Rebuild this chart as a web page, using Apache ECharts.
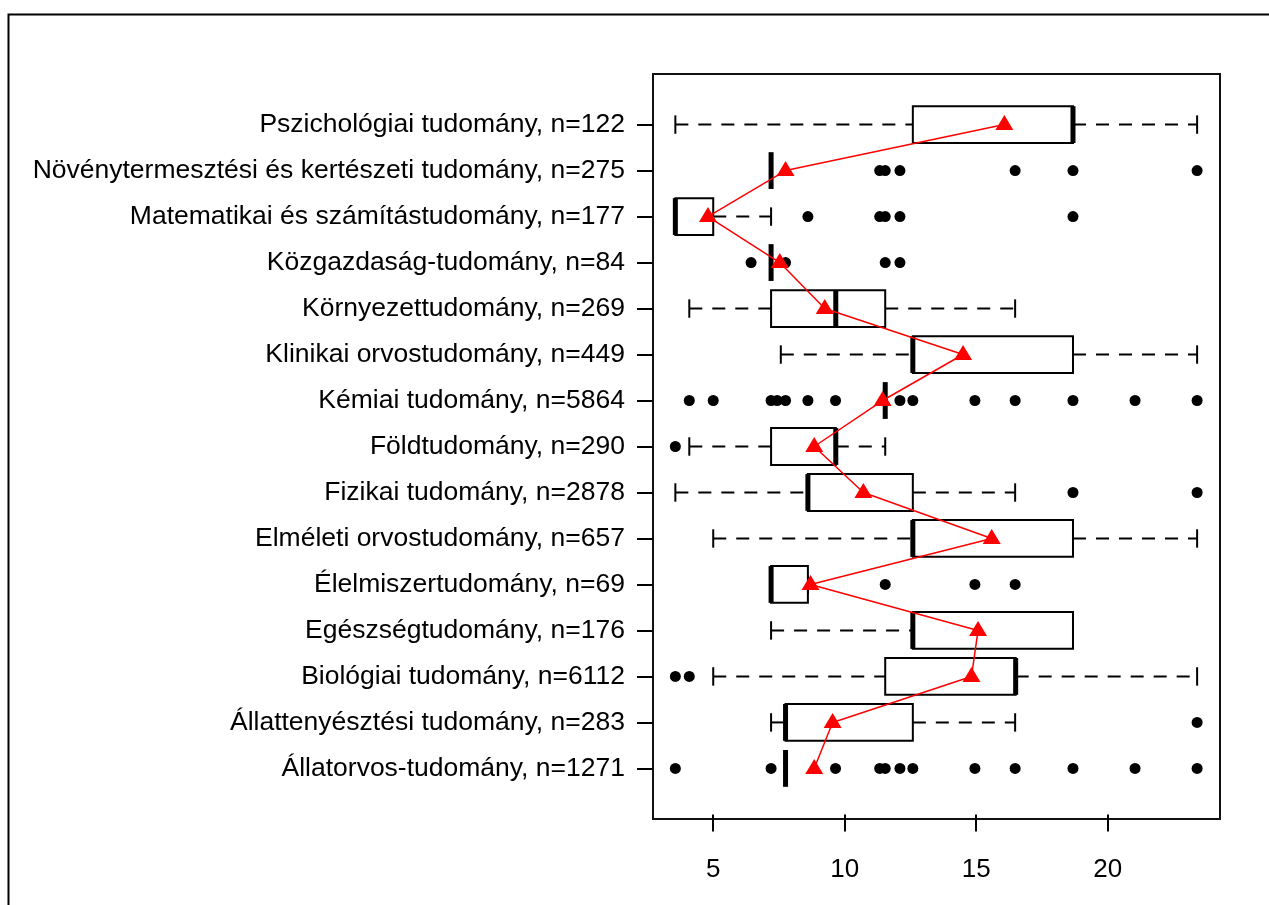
<!DOCTYPE html>
<html>
<head>
<meta charset="utf-8">
<script src="https://cdn.jsdelivr.net/npm/echarts@6/dist/echarts.min.js"></script>
<style>
html,body{margin:0;padding:0;background:#fff;}
#chart{width:1269px;height:905px;}
</style>
</head>
<body>
<div id="chart"></div>
<script>
// Categories, bottom row first (as drawn by R boxplot)
const categories = [
  'Állatorvos-tudomány, n=1271',
  'Állattenyésztési tudomány, n=283',
  'Biológiai tudomány, n=6112',
  'Egészségtudomány, n=176',
  'Élelmiszertudomány, n=69',
  'Elméleti orvostudomány, n=657',
  'Fizikai tudomány, n=2878',
  'Földtudomány, n=290',
  'Kémiai tudomány, n=5864',
  'Klinikai orvostudomány, n=449',
  'Környezettudomány, n=269',
  'Közgazdaság-tudomány, n=84',
  'Matematikai és számítástudomány, n=177',
  'Növénytermesztési és kertészeti tudomány, n=275',
  'Pszichológiai tudomány, n=122'
];
// [lower whisker, Q1, median, Q3, upper whisker]
const boxStats = [
  [7.75, 7.75, 7.75, 7.75, 7.75],
  [7.2, 7.75, 7.75, 12.59, 16.48],
  [5.0, 11.54, 16.5, 16.5, 23.4],
  [7.2, 12.59, 12.59, 18.68, 18.68],
  [7.2, 7.2, 7.2, 8.6, 8.6],
  [5.0, 12.59, 12.59, 18.68, 23.4],
  [3.56, 8.6, 8.6, 12.59, 16.48],
  [4.09, 7.2, 9.66, 9.66, 11.54],
  [11.54, 11.54, 11.54, 11.54, 11.54],
  [7.57, 12.59, 12.59, 18.68, 23.4],
  [4.09, 7.2, 9.66, 11.54, 16.48],
  [7.2, 7.2, 7.2, 7.2, 7.2],
  [3.56, 3.56, 3.56, 5.0, 7.2],
  [7.2, 7.2, 7.2, 7.2, 7.2],
  [3.56, 12.59, 18.68, 18.68, 23.4]
];
const outliers = [
  [3.56, 7.2, 9.65, 11.33, 11.54, 12.1, 12.59, 14.95, 16.48, 18.68, 21.04, 23.4],
  [23.4],
  [3.56, 4.09],
  [],
  [11.54, 14.95, 16.48],
  [],
  [18.68, 23.4],
  [3.56],
  [4.09, 5.0, 7.2, 7.43, 7.75, 8.6, 9.65, 12.1, 12.59, 14.95, 16.48, 18.68, 21.04, 23.4],
  [],
  [],
  [6.44, 7.75, 11.54, 12.1],
  [8.6, 11.33, 11.54, 12.1, 18.68],
  [11.33, 11.54, 12.1, 16.48, 18.68, 23.4],
  []
];
const means = [8.84, 9.54, 14.82, 15.07, 8.7, 15.59, 10.71, 8.84, 11.44, 14.5, 9.24, 7.53, 4.8, 7.75, 16.07];
const xTicks = [5, 10, 15, 20];

const rowPos = categories.map((c, i) => i + 1);
const boxData = boxStats.map((s, i) => [rowPos[i]].concat(s));
const outData = [];
outliers.forEach((arr, i) => arr.forEach(v => outData.push([v, rowPos[i]])));
const meanData = means.map((m, i) => [m, rowPos[i]]);

const FONT = 'Liberation Sans, Arial, sans-serif';

function renderBox(params, api) {
  const y = api.value(0);
  const lo = api.value(1), q1 = api.value(2), med = api.value(3), q3 = api.value(4), hi = api.value(5);
  const boxH = api.size([0, 0.8])[1];
  const capH = api.size([0, 0.4])[1];
  const pLo = api.coord([lo, y]);
  const pQ1 = api.coord([q1, y]);
  const pMed = api.coord([med, y]);
  const pQ3 = api.coord([q3, y]);
  const pHi = api.coord([hi, y]);
  const cy = pMed[1];
  const children = [];
  const dash = { stroke: '#000', lineWidth: 2, lineDash: [13, 10] };
  const solid = { stroke: '#000', lineWidth: 2 };
  if (pQ1[0] - pLo[0] > 0.5) {
    children.push({ type: 'line', shape: { x1: pLo[0], y1: cy, x2: pQ1[0], y2: cy }, style: dash });
  }
  if (pHi[0] - pQ3[0] > 0.5) {
    children.push({ type: 'line', shape: { x1: pQ3[0], y1: cy, x2: pHi[0], y2: cy }, style: dash });
  }
  children.push({ type: 'line', shape: { x1: pLo[0], y1: cy - capH / 2, x2: pLo[0], y2: cy + capH / 2 }, style: solid });
  children.push({ type: 'line', shape: { x1: pHi[0], y1: cy - capH / 2, x2: pHi[0], y2: cy + capH / 2 }, style: solid });
  if (pQ3[0] - pQ1[0] > 0.5) {
    children.push({ type: 'rect', shape: { x: pQ1[0], y: cy - boxH / 2, width: pQ3[0] - pQ1[0], height: boxH },
      style: { fill: '#fff', stroke: '#000', lineWidth: 2 } });
  }
  children.push({ type: 'line', shape: { x1: pMed[0], y1: cy - boxH / 2, x2: pMed[0], y2: cy + boxH / 2 },
    style: { stroke: '#000', lineWidth: 5 } });
  return { type: 'group', children: children };
}

const chart = echarts.init(document.getElementById('chart'), null, { renderer: 'canvas' });
chart.setOption({
  backgroundColor: '#fff',
  animation: false,
  graphic: [{
    type: 'rect', left: 6, top: 12, z: 100,
    shape: { x: 0, y: 0, width: 1400, height: 1000 },
    style: { fill: 'none', stroke: '#000', lineWidth: 2 }
  }],
  grid: {
    left: 653, right: 49, top: 74, bottom: 86,
    show: true, borderColor: '#111', borderWidth: 2, backgroundColor: 'transparent'
  },
  xAxis: {
    type: 'value', min: 2.71, max: 24.27,
    axisLine: { show: false },
    splitLine: { show: false },
    axisTick: { show: true, customValues: xTicks, length: 17, lineStyle: { color: '#000', width: 2 } },
    axisLabel: { customValues: xTicks, margin: 38, color: '#000', fontSize: 26, fontFamily: FONT }
  },
  yAxis: {
    type: 'value', min: -0.1, max: 16.1,
    axisLine: { show: false },
    splitLine: { show: false },
    axisTick: { show: true, customValues: rowPos, length: 16, lineStyle: { color: '#000', width: 2 } },
    axisLabel: {
      customValues: rowPos, margin: 28, color: '#000', fontSize: 26.5, fontFamily: FONT,
      formatter: v => categories[Math.round(v) - 1] || ''
    }
  },
  series: [
    {
      type: 'custom', renderItem: renderBox, data: boxData, z: 2,
      encode: { x: [1, 2, 3, 4, 5], y: 0 }
    },
    {
      type: 'scatter', data: outData, symbol: 'circle', symbolSize: 11, z: 3,
      itemStyle: { color: '#000', opacity: 1 }
    },
    {
      type: 'line', data: meanData, z: 4,
      symbol: 'triangle', symbolSize: [18, 15], symbolOffset: [0, -2],
      lineStyle: { color: '#ff0000', width: 1.5 },
      itemStyle: { color: '#ff0000', opacity: 1 }
    }
  ]
});
</script>
</body>
</html>
